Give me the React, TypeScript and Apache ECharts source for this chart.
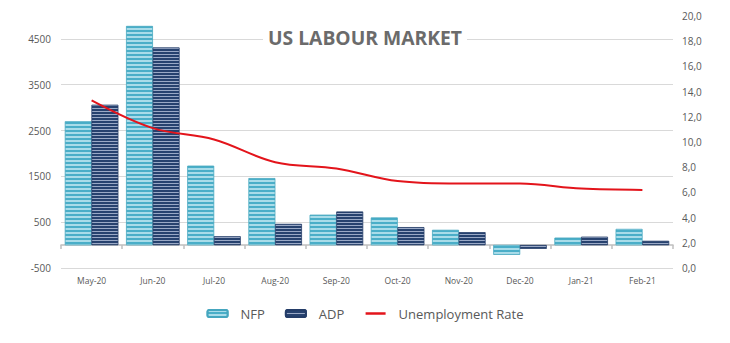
import React, { useEffect, useRef } from "react";
import * as echarts from "echarts";

const categories = ["May-20", "Jun-20", "Jul-20", "Aug-20", "Sep-20", "Oct-20", "Nov-20", "Dec-20", "Jan-21", "Feb-21"];
const nfp = [2700, 4780, 1730, 1460, 660, 600, 330, -210, 160, 350];
const adp = [3060, 4310, 190, 460, 730, 390, 280, -80, 180, 90];
const unemployment = [13.3, 11.1, 10.2, 8.4, 7.9, 6.9, 6.7, 6.7, 6.3, 6.2];

const FONT = "'Open Sans', sans-serif";
const LABEL = "#595959";

export default function App() {
  const ref = useRef<HTMLDivElement>(null);
  useEffect(() => {
    if (!ref.current) return;
    const chart = echarts.init(ref.current, null, { renderer: "svg" });
    chart.setOption({
      animation: false,
      backgroundColor: "#ffffff",
      title: {
        text: "US LABOUR MARKET",
        left: "center",
        top: 27,
        padding: [1, 5],
        backgroundColor: "#ffffff",
        textStyle: { fontFamily: FONT, fontWeight: "bold", fontSize: 19.3, color: "#6b6b6b" },
      },
      legend: {
        bottom: 18,
        left: "center",
        itemWidth: 20,
        itemHeight: 7,
        itemGap: 20,
        textStyle: { fontFamily: FONT, fontSize: 13, color: LABEL, padding: [0, 0, 0, 8] },
        data: [
          "NFP",
          "ADP",
          {
            name: "Unemployment Rate",
            itemStyle: { color: "rgba(0,0,0,0)", borderColor: "rgba(0,0,0,0)", borderWidth: 0, opacity: 0 },
            lineStyle: { color: "#e3141b", width: 2.5 },
          },
        ],
      },
      grid: { left: 61, right: 57, top: 16, bottom: 75 },
      xAxis: [
        {
          type: "category",
          data: categories,
          axisLine: { onZero: true, lineStyle: { color: "#bfbfbf", width: 1.5 } },
          axisTick: { show: true, length: 4, lineStyle: { color: "#bfbfbf", width: 1.5 } },
          axisLabel: { show: false },
        },
        {
          type: "category",
          data: categories,
          position: "bottom",
          axisLine: { show: false, onZero: false },
          axisTick: { show: false },
          axisLabel: { fontFamily: FONT, fontSize: 8.5, color: LABEL, margin: 8 },
        },
      ],
      yAxis: [
        {
          type: "value",
          min: -500,
          max: 5000,
          interval: 1000,
          axisLine: { show: false },
          axisTick: { show: false },
          axisLabel: {
            fontFamily: FONT,
            fontSize: 10,
            color: LABEL,
            margin: 10,
            showMaxLabel: false,
            formatter: (v: number) => String(v),
          },
          splitLine: { show: true, showMaxLine: false, lineStyle: { color: "#d9d9d9", width: 1 } },
        },
        {
          type: "value",
          min: 0,
          max: 20,
          interval: 2,
          position: "right",
          axisLine: { show: false },
          axisTick: { show: false },
          splitLine: { show: false },
          axisLabel: {
            fontFamily: FONT,
            fontSize: 10,
            color: LABEL,
            margin: 9,
            formatter: (v: number) => v.toFixed(1).replace(".", ","),
          },
        },
      ],
      series: [
        {
          name: "NFP",
          type: "bar",
          data: nfp,
          xAxisIndex: 0,
          yAxisIndex: 0,
          barGap: "0%",
          barCategoryGap: "13%",
          itemStyle: {
            color: "#4aaec8",
            borderColor: "#45a6bf",
            borderWidth: 0.5,
            decal: { symbol: "rect", dashArrayX: [1, 0], dashArrayY: [1.5, 1.5], rotation: 0, color: "#a9dce9" },
          },
        },
        {
          name: "ADP",
          type: "bar",
          data: adp,
          xAxisIndex: 0,
          yAxisIndex: 0,
          itemStyle: {
            color: "#27426f",
            borderColor: "#243d68",
            borderWidth: 0.5,
            decal: { symbol: "rect", dashArrayX: [1, 0], dashArrayY: [1, 2], rotation: 0, color: "#9aa9c6" },
          },
        },
        {
          name: "Unemployment Rate",
          type: "line",
          data: unemployment,
          xAxisIndex: 0,
          yAxisIndex: 1,
          symbol: "none",
          smooth: 0.35,
          lineStyle: { color: "#e3141b", width: 2 },
          itemStyle: { color: "#e3141b" },
        },
      ],
    });
    return () => chart.dispose();
  }, []);
  return <div ref={ref} style={{ position: "fixed", left: 0, top: 0, width: 730, height: 343 }} />;
}
